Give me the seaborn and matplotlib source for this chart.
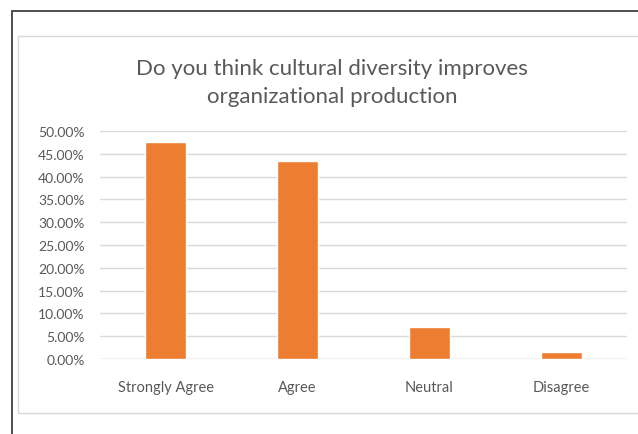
import matplotlib
matplotlib.use("Agg")
import matplotlib.pyplot as plt
from matplotlib.patches import Rectangle
from matplotlib.ticker import FuncFormatter, MultipleLocator
import pandas as pd
import seaborn as sns

# Survey responses
categories = ["Strongly Agree", "Agree", "Neutral", "Disagree"]
shares = [0.475, 0.435, 0.071, 0.015]
title_text = "Do you think cultural diversity improves\norganizational production"

BAR_COLOR = "#ED7D31"
TEXT_COLOR = "#595959"
GRID_COLOR = "#D9D9D9"

sns.set_theme(style="white")
plt.rcParams["font.family"] = ["Lato", "DejaVu Sans"]

W, H = 638, 435
fig = plt.figure(figsize=(W / 100, H / 100), dpi=100)

# Outer document frame and chart-area frame
fig.patches.append(Rectangle((12 / W, -0.1), 1.2, (H - 12) / H + 0.1,
                             transform=fig.transFigure, fill=False,
                             edgecolor="#404040", linewidth=1.3))
fig.patches.append(Rectangle((18 / W, (H - 414) / H), 1.2, (414 - 37) / H,
                             transform=fig.transFigure, fill=False,
                             edgecolor="#D9D9D9", linewidth=1.0))

ax = fig.add_axes([100 / W, (H - 360) / H, 527 / W, 228 / H])
df = pd.DataFrame({"category": categories, "share": shares})
sns.barplot(data=df, x="category", y="share", color=BAR_COLOR,
            width=0.31, saturation=1, ax=ax)

ax.set_xlim(-0.5, len(categories) - 0.5)
ax.set_ylim(0, 0.5)
ax.yaxis.set_major_locator(MultipleLocator(0.05))
ax.yaxis.set_major_formatter(FuncFormatter(lambda v, p: f"{v * 100:.2f}%"))
ax.grid(axis="y", color=GRID_COLOR, linewidth=1.0)
ax.set_axisbelow(True)
for s in ax.spines.values():
    s.set_visible(False)
ax.axhline(0, color=GRID_COLOR, linewidth=1.0, zorder=0.5)
ax.set_xlabel("")
ax.set_ylabel("")
ax.tick_params(axis="y", length=0, pad=11, labelsize=10, labelcolor=TEXT_COLOR)
ax.tick_params(axis="x", length=0, pad=15, labelsize=10.5, labelcolor=TEXT_COLOR)

fig.text(332 / W, (H - 83) / H, title_text, ha="center", va="center",
         fontsize=16, color=TEXT_COLOR, linespacing=1.45)

fig.savefig("out.png", dpi=100, facecolor="white")
